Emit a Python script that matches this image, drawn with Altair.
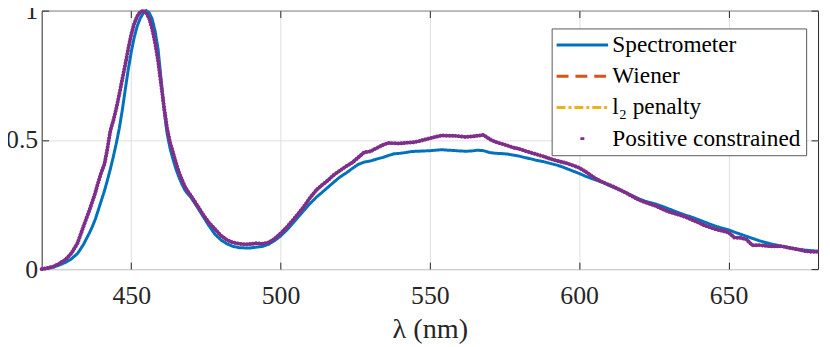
import altair as alt
import pandas as pd

WAVELENGTH = [420, 422, 424, 426, 428, 430, 432, 434, 436,
              437, 438, 439, 440, 441, 442, 443, 444, 445, 446, 447, 448, 449, 450,
              451, 452, 453, 454, 455, 456, 457, 458, 459, 460, 461, 462, 463, 464,
              465, 466, 467, 468, 469, 470,
              472, 474, 476, 478, 480, 482, 484, 486, 488, 490, 492, 494, 496, 498,
              500, 502, 504, 506, 508, 510, 512, 514, 516, 518, 520, 522, 524, 526,
              528, 530, 532, 534, 536, 538, 540, 542, 544, 546, 548, 550, 552, 554,
              556, 558, 560, 562, 564, 566, 568, 570, 572, 574, 576, 578, 580, 582,
              584, 586, 588, 590, 592, 594, 596, 598, 600, 602, 604, 606, 608, 610,
              612, 614, 616, 618, 620, 622, 624, 626, 628, 630, 632, 634, 636, 638,
              640, 642, 644, 646, 648, 650, 652, 654, 656, 658, 660, 662, 664, 666,
              668, 670, 672, 674, 676, 678, 680]

SPECTROMETER = [0.000, 0.003, 0.008, 0.016, 0.026, 0.040, 0.060, 0.095, 0.140,
                0.165, 0.194, 0.230, 0.266, 0.302, 0.343, 0.387, 0.435, 0.487, 0.545,
                0.615, 0.695, 0.772, 0.840, 0.897, 0.940, 0.970, 0.990, 1.000, 0.992,
                0.968, 0.920, 0.850, 0.735, 0.615, 0.525, 0.467, 0.424, 0.386, 0.355,
                0.328, 0.305, 0.290, 0.277,
                0.242, 0.205, 0.168, 0.135, 0.113, 0.098, 0.088, 0.083, 0.082, 0.082,
                0.085, 0.088, 0.096, 0.110, 0.128, 0.150, 0.176, 0.203, 0.229, 0.255,
                0.278, 0.298, 0.318, 0.338, 0.357, 0.372, 0.389, 0.405, 0.414, 0.418,
                0.425, 0.431, 0.439, 0.446, 0.448, 0.451, 0.455, 0.456, 0.457, 0.458,
                0.460, 0.462, 0.460, 0.459, 0.457, 0.456, 0.457, 0.460, 0.458, 0.451,
                0.448, 0.447, 0.445, 0.441, 0.437, 0.431, 0.426, 0.420, 0.416, 0.410,
                0.404, 0.397, 0.388, 0.379, 0.370, 0.360, 0.351, 0.343, 0.335, 0.324,
                0.314, 0.304, 0.294, 0.283, 0.272, 0.263, 0.257, 0.250, 0.242, 0.233,
                0.224, 0.215, 0.207, 0.200, 0.191, 0.182, 0.173, 0.165, 0.158, 0.152,
                0.143, 0.135, 0.127, 0.119, 0.111, 0.104, 0.098, 0.093, 0.088, 0.084,
                0.079, 0.076, 0.073, 0.071, 0.069]

# The three reconstructions lie on top of one another in the figure
RECONSTRUCTED = [0.000, 0.004, 0.010, 0.022, 0.037, 0.062, 0.100, 0.165, 0.228,
                 0.262, 0.297, 0.338, 0.375, 0.405, 0.465, 0.535, 0.575, 0.622, 0.677,
                 0.735, 0.792, 0.852, 0.908, 0.950, 0.978, 0.995, 1.000, 0.992, 0.970,
                 0.930, 0.875, 0.805, 0.715, 0.625, 0.545, 0.490, 0.450, 0.410, 0.373,
                 0.345, 0.318, 0.300, 0.284,
                 0.248, 0.212, 0.180, 0.155, 0.130, 0.113, 0.103, 0.098, 0.096, 0.097,
                 0.100, 0.098, 0.103, 0.117, 0.138, 0.161, 0.188, 0.215, 0.245, 0.278,
                 0.306, 0.326, 0.345, 0.366, 0.382, 0.398, 0.412, 0.432, 0.452, 0.455,
                 0.467, 0.479, 0.488, 0.487, 0.486, 0.489, 0.490, 0.494, 0.500, 0.506,
                 0.512, 0.517, 0.516, 0.516, 0.514, 0.511, 0.513, 0.516, 0.519, 0.503,
                 0.492, 0.485, 0.478, 0.470, 0.465, 0.457, 0.450, 0.443, 0.436, 0.428,
                 0.421, 0.415, 0.409, 0.401, 0.392, 0.378, 0.362, 0.347, 0.336, 0.326,
                 0.316, 0.305, 0.293, 0.280, 0.268, 0.259, 0.251, 0.243, 0.232, 0.222,
                 0.215, 0.208, 0.200, 0.190, 0.180, 0.169, 0.161, 0.153, 0.148, 0.142,
                 0.122, 0.121, 0.115, 0.092, 0.093, 0.091, 0.088, 0.088, 0.088, 0.083,
                 0.079, 0.074, 0.069, 0.067, 0.067]

WIENER = RECONSTRUCTED
L2_PENALTY = RECONSTRUCTED
POSITIVE = RECONSTRUCTED

SERIES = ["Spectrometer", "Wiener", "l₂ penalty", "Positive constrained"]
COLORS = ["#0072BD", "#D95319", "#EDB120", "#7E2F8E"]
DASHES = [[1, 0], [12, 7], [9, 3, 3, 3], [0, 24, 4, 100]]
X_TICKS = [450, 500, 550, 600, 650]
Y_TICKS = [0, 0.5, 1]

FONT = "Liberation Serif"
INK = "#262626"


def frame(values, name):
    return pd.DataFrame({"wl": WAVELENGTH, "val": values, "series": name})


xscale = alt.Scale(domain=[420, 680], nice=False, zero=False)
yscale = alt.Scale(domain=[0, 1], nice=False, zero=False)

x_axis = alt.Axis(orient="bottom", values=X_TICKS, offset=-7, tickSize=7,
                  tickColor=INK, tickWidth=1, labelPadding=14, labelFont=FONT,
                  labelFontSize=26, labelColor=INK, labelFlush=False, domain=False,
                  grid=True, gridColor="#dfdfdf", gridWidth=1, format="d",
                  title="λ (nm)", titleFont=FONT, titleFontSize=28.5,
                  titleFontWeight="normal", titleColor=INK, titleY=76,
                  titleBaseline="alphabetic")
y_axis = alt.Axis(orient="left", values=Y_TICKS, offset=-7, tickSize=7,
                  tickColor=INK, tickWidth=1, labelPadding=4, labelFont=FONT,
                  labelFontSize=26, labelColor=INK, labelFlush=False, domain=False,
                  grid=True, gridColor="#dfdfdf", gridWidth=1, format="~g",
                  title=None)
x_top = alt.Axis(orient="top", values=X_TICKS, offset=-7, tickSize=7,
                 tickColor=INK, tickWidth=1, labels=False, domain=False,
                 grid=False, title=None)
y_right = alt.Axis(orient="right", values=Y_TICKS, offset=-7, tickSize=7,
                   tickColor=INK, tickWidth=1, labels=False, domain=False,
                   grid=False, title=None)

legend = alt.Legend(title=None, orient="none", legendX=515, legendY=18, padding=5,
                    fillColor="white", strokeColor="#595959",
                    symbolType="M-5.2,0H5.2", symbolSize=100, symbolStrokeWidth=3,
                    symbolOffset=14.25, labelOffset=18.5,
                    labelFont=FONT, labelFontSize=23.5, labelColor="black",
                    rowPadding=6.5, labelLimit=0)

color = alt.Color("series:N", scale=alt.Scale(domain=SERIES, range=COLORS), legend=legend)
dash = alt.StrokeDash("series:N", scale=alt.Scale(domain=SERIES, range=DASHES), legend=legend)

spec = alt.Chart(frame(SPECTROMETER, SERIES[0])).mark_line(strokeWidth=3).encode(
    x=alt.X("wl:Q", scale=xscale, axis=x_axis),
    y=alt.Y("val:Q", scale=yscale, axis=y_axis),
    color=color, strokeDash=dash)

wien = alt.Chart(frame(WIENER, SERIES[1])).mark_line(strokeWidth=2.6).encode(
    x=alt.X("wl:Q", scale=xscale, axis=None),
    y=alt.Y("val:Q", scale=yscale, axis=None),
    color=color, strokeDash=dash)

l2 = alt.Chart(frame(L2_PENALTY, SERIES[2])).mark_line(strokeWidth=2.6).encode(
    x=alt.X("wl:Q", scale=xscale, axis=None),
    y=alt.Y("val:Q", scale=yscale, axis=None),
    color=color, strokeDash=dash)

pos = alt.Chart(frame(POSITIVE, SERIES[3])).mark_line(
    color=COLORS[3], strokeWidth=4, strokeCap="round", strokeDash=[0.1, 3.0]).encode(
    x=alt.X("wl:Q", scale=xscale, axis=None),
    y=alt.Y("val:Q", scale=yscale, axis=None))

mirror = alt.Chart(frame(SPECTROMETER, SERIES[0])).mark_line(opacity=0).encode(
    x=alt.X("wl:Q", scale=xscale, axis=x_top),
    y=alt.Y("val:Q", scale=yscale, axis=y_right))

chart = alt.layer(spec, wien, l2, pos, mirror).resolve_axis(
    x="independent", y="independent"
).properties(
    width=784, height=261,
    padding={"left": 34, "top": 1, "right": 4, "bottom": 75},
    autosize=alt.AutoSizeParams(type="none"),
).configure_view(stroke=INK, strokeWidth=1)

chart.save("out.html", embed_options={"renderer": "svg", "actions": False})
